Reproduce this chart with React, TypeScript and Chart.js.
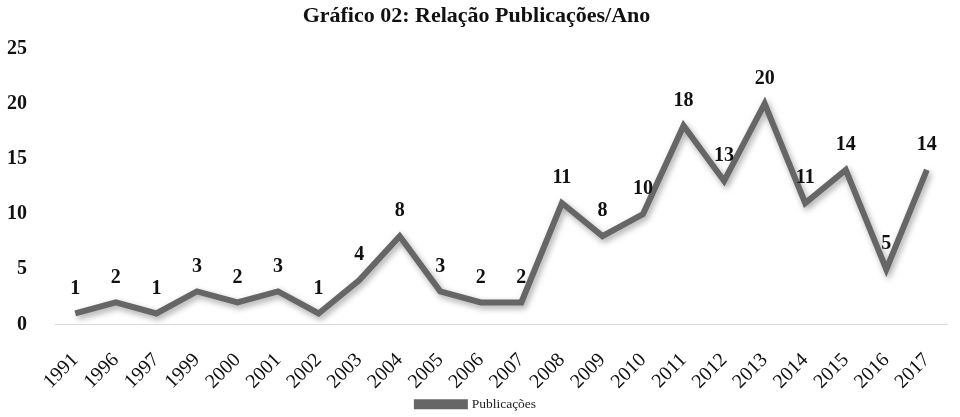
import { useRef, useEffect } from 'react';
import { Chart, registerables, Plugin } from 'chart.js';

Chart.register(...registerables);

const anos = ['1991', '1996', '1997', '1999', '2000', '2001', '2002', '2003', '2004', '2005', '2006',
  '2007', '2008', '2009', '2010', '2011', '2012', '2013', '2014', '2015', '2016', '2017'];
const publicacoes = [1, 2, 1, 3, 2, 3, 1, 4, 8, 3, 2, 2, 11, 8, 10, 18, 13, 20, 11, 14, 5, 14];
const yTicks = [0, 5, 10, 15, 20, 25];

const serif = '"Liberation Serif", "Times New Roman", serif';

// sombra da linha, como no gráfico original
const sombra: Plugin<'line'> = {
  id: 'sombra',
  beforeDatasetsDraw(chart) {
    const ctx = chart.ctx;
    ctx.save();
    ctx.shadowColor = 'rgba(0,0,0,0.35)';
    ctx.shadowBlur = 6;
    ctx.shadowOffsetX = 2;
    ctx.shadowOffsetY = 3;
  },
  afterDatasetsDraw(chart) {
    chart.ctx.restore();
  }
};

// rótulos de valor acima de cada ponto
const rotulos: Plugin<'line'> = {
  id: 'rotulos',
  afterDraw(chart) {
    const ctx = chart.ctx;
    const meta = chart.getDatasetMeta(0);
    ctx.save();
    ctx.font = `bold 20px ${serif}`;
    ctx.fillStyle = '#111';
    ctx.textAlign = 'center';
    ctx.textBaseline = 'bottom';
    meta.data.forEach((pt, i) => {
      ctx.fillText(String(publicacoes[i]), pt.x, pt.y - 15);
    });
    ctx.restore();
  }
};

function GraficoPublicacoes() {
  const canvasRef = useRef<HTMLCanvasElement>(null);

  useEffect(() => {
    const canvas = canvasRef.current;
    if (!canvas) return;
    const chart = new Chart(canvas, {
      type: 'line',
      data: {
        labels: anos,
        datasets: [{
          label: 'Publicações',
          data: publicacoes,
          borderColor: '#666666',
          backgroundColor: '#666666',
          borderWidth: 6,
          pointRadius: 0,
          tension: 0,
          borderJoinStyle: 'miter'
        }]
      },
      options: {
        animation: false,
        responsive: true,
        maintainAspectRatio: false,
        layout: { padding: { left: 0, right: 7, top: 0, bottom: -4 } },
        scales: {
          x: {
            offset: true,
            afterFit(axis) { axis.height = 72; },
            grid: { display: false },
            border: { display: true, color: '#d9d9d9', width: 1 },
            ticks: {
              minRotation: 45,
              maxRotation: 45,
              color: '#111',
              padding: 16,
              font: { family: serif, size: 20 }
            }
          },
          y: {
            min: 0,
            max: 25,
            afterBuildTicks(axis) {
              axis.ticks = yTicks.map(v => ({ value: v }));
            },
            afterFit(axis) { axis.width = 55; },
            grid: { display: false },
            border: { display: false },
            ticks: {
              color: '#111',
              padding: 20,
              font: { family: serif, size: 20, weight: 'bold' }
            }
          }
        },
        plugins: {
          title: {
            display: true,
            text: 'Gráfico 02: Relação Publicações/Ano',
            color: '#111',
            font: { family: serif, size: 22, weight: 'bold' },
            padding: { top: 3, bottom: 19 }
          },
          legend: {
            display: true,
            position: 'bottom',
            labels: {
              boxWidth: 48,
              boxHeight: 4,
              color: '#222',
              font: { family: serif, size: 13.5 },
              padding: 1
            }
          },
          tooltip: { enabled: false }
        }
      },
      plugins: [sombra, rotulos]
    });
    return () => {
      chart.destroy();
    };
  }, []);

  return <canvas ref={canvasRef} />;
}

export default function App() {
  document.body.style.margin = '0';
  return (
    <div style={{ width: 960, height: 417, background: '#fff' }}>
      <GraficoPublicacoes />
    </div>
  );
}
